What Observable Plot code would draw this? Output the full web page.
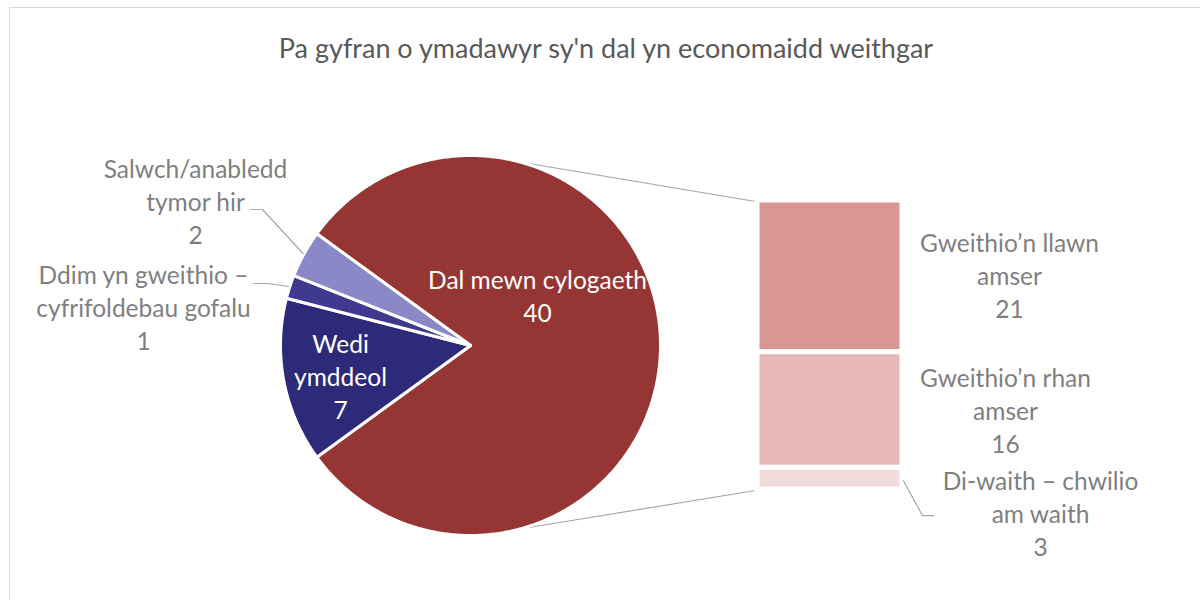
<!DOCTYPE html>
<html><head><meta charset="utf-8">
<script src="https://cdn.jsdelivr.net/npm/d3@7"></script>
<script src="https://cdn.jsdelivr.net/npm/@observablehq/plot@0.6"></script>
<style>
body{margin:0;background:#fff;font-family:Lato,"Open Sans",sans-serif;}
#frame{position:absolute;left:9px;top:7px;width:1300px;height:700px;border:1px solid #d9d9d9;box-sizing:border-box;}
#title{position:absolute;left:0;top:29px;width:1212px;text-align:center;font-size:27px;line-height:38px;color:#595959;}
#chart{position:absolute;left:0;top:90px;}
</style></head>
<body>
<div id="frame"></div>
<div id="title">Pa gyfran o ymadawyr sy'n dal yn economaidd weithgar</div>
<div id="chart"></div>
<script>
// ---- data ----
const pieCategories = ["Dal mewn cylogaeth", "Wedi ymddeol", "Ddim yn gweithio – cyfrifoldebau gofalu", "Salwch/anabledd tymor hir"];
const pieValues = [40, 7, 1, 2];
const pieLabelText = ["Dal mewn cylogaeth", "Wedi\nymddeol", "Ddim yn gweithio –\ncyfrifoldebau gofalu", "Salwch/anabledd\ntymor hir"];
const barCategories = ["Gweithio’n llawn amser", "Gweithio’n rhan amser", "Di-waith – chwilio am waith"];
const barValues = [21, 16, 3];
const barLabelText = ["Gweithio’n llawn\namser", "Gweithio’n rhan\namser", "Di-waith – chwilio\nam waith"];

// ---- styles / layout ----
const pieColors = ["#963634", "#2e2a7a", "#3f3a8f", "#8a88c6"];
const barColors = ["#d99694", "#e6b9b8", "#f2dcdb"];
const W = 1200, H = 510;
const cx = 470, cy = 255, R = 190;
const barX1 = 757, barX2 = 902, barTop = 110, barBottom = 399;
const connectorAngle = 75 * Math.PI / 180;
const pieLabelPos = [ // offsets from pie centre
  {dx: 67, dy: -51, fill: "white"},
  {dx: -130, dy: 30, fill: "white"},
  {dx: -327, dy: -39, fill: "#7f7f7f"},
  {dx: -275, dy: -145, fill: "#7f7f7f"}
];
const barLabelPos = [ // offsets from bar right edge / segment middle
  {dx: 107, dy: -2}, {dx: 103, dy: -1}, {dx: 138, dy: 34}
];

const total = d3.sum(pieValues);
const arcs = d3.pie().sort(null).value(d => d)
  .startAngle(Math.PI / 2 - (pieValues[0] / total) * Math.PI)
  .endAngle(Math.PI / 2 - (pieValues[0] / total) * Math.PI + 2 * Math.PI)(pieValues);
const pt = (a, r) => [cx + r * Math.sin(a), cy - r * Math.cos(a)];

const slicePts = [];
arcs.forEach((a, i) => {
  slicePts.push({k: i, x: cx, y: cy, c: pieColors[i]});
  const n = Math.max(4, Math.ceil((a.endAngle - a.startAngle) / (Math.PI / 360)));
  for (let j = 0; j <= n; j++) {
    const t = a.startAngle + (a.endAngle - a.startAngle) * j / n;
    const [x, y] = pt(t, R);
    slicePts.push({k: i, x, y, c: pieColors[i]});
  }
});

const barTotal = d3.sum(barValues);
const unit = (barBottom - barTop) / barTotal;
let acc = 0;
const barRects = barValues.map((v, i) => {
  const y1 = barTop + acc * unit; acc += v; const y2 = barTop + acc * unit;
  return {y1, y2, c: barColors[i], mid: (y1 + y2) / 2,
    label: barLabelText[i] + "\n" + v};
});

const pieLabels = arcs.map((a, i) => ({
  x: cx + pieLabelPos[i].dx, y: cy + pieLabelPos[i].dy,
  text: pieLabelText[i] + "\n" + pieValues[i], fill: pieLabelPos[i].fill
}));
const barLabels = barRects.map((b, i) => ({
  x: barX2 + barLabelPos[i].dx, y: b.mid + barLabelPos[i].dy, text: b.label
}));

// connectors from pie to bar
const topPt = [cx + R * Math.cos(connectorAngle), cy - R * Math.sin(connectorAngle)];
const botPt = [cx + R * Math.cos(connectorAngle), cy + R * Math.sin(connectorAngle)];
const connectors = [
  {k: 0, x: topPt[0], y: topPt[1]}, {k: 0, x: barX1 - 2, y: barTop + 1},
  {k: 1, x: botPt[0], y: botPt[1]}, {k: 1, x: barX1 - 2, y: barBottom + 1}
];
// leader lines for small slices and small bar segment
const midA = a => (a.startAngle + a.endAngle) / 2;
const sP = pt(midA(arcs[3]), R + 1), dP = pt(midA(arcs[2]), R + 1);
const leaders = [
  {k: 0, x: 250, y: pieLabels[3].y + 9},
  {k: 0, x: 262, y: pieLabels[3].y + 9},
  {k: 0, x: sP[0], y: sP[1]},
  {k: 1, x: 253, y: pieLabels[2].y - 23},
  {k: 1, x: 267, y: pieLabels[2].y - 23},
  {k: 1, x: dP[0], y: dP[1]},
  {k: 2, x: barX2 + 1, y: barRects[2].mid + 2},
  {k: 2, x: barX2 + 20, y: barLabels[2].y + 3},
  {k: 2, x: barX2 + 31, y: barLabels[2].y + 3}
];

const fontSize = 24.5;
const chart = Plot.plot({
  width: W, height: H, margin: 0,
  x: {type: "linear", domain: [0, W], range: [0, W], axis: null},
  y: {type: "linear", domain: [0, H], range: [0, H], axis: null},
  color: {type: "identity"},
  style: {fontFamily: "Lato, 'Open Sans', sans-serif", background: "transparent"},
  marks: [
    Plot.line(connectors, {x: "x", y: "y", z: "k", stroke: "#a6a6a6", strokeWidth: 1.2}),
    Plot.line(slicePts, {x: "x", y: "y", z: "k", fill: "c", stroke: "white", strokeWidth: 3, curve: "linear-closed", strokeLinejoin: "round"}),
    Plot.rect(barRects, {x1: () => barX1, x2: () => barX2, y1: "y1", y2: "y2", fill: "c", stroke: "white", strokeWidth: 5}),
    Plot.line(leaders, {x: "x", y: "y", z: "k", stroke: "#a6a6a6", strokeWidth: 1.2}),
    Plot.text(pieLabels, {x: "x", y: "y", text: "text", fill: "fill", fontSize, lineHeight: 1.35, textAnchor: "middle", lineAnchor: "middle"}),
    Plot.text(barLabels, {x: "x", y: "y", text: "text", fill: "#7f7f7f", fontSize, lineHeight: 1.35, textAnchor: "middle", lineAnchor: "middle"})
  ]
});
document.getElementById("chart").appendChild(chart);
</script>
</body></html>
